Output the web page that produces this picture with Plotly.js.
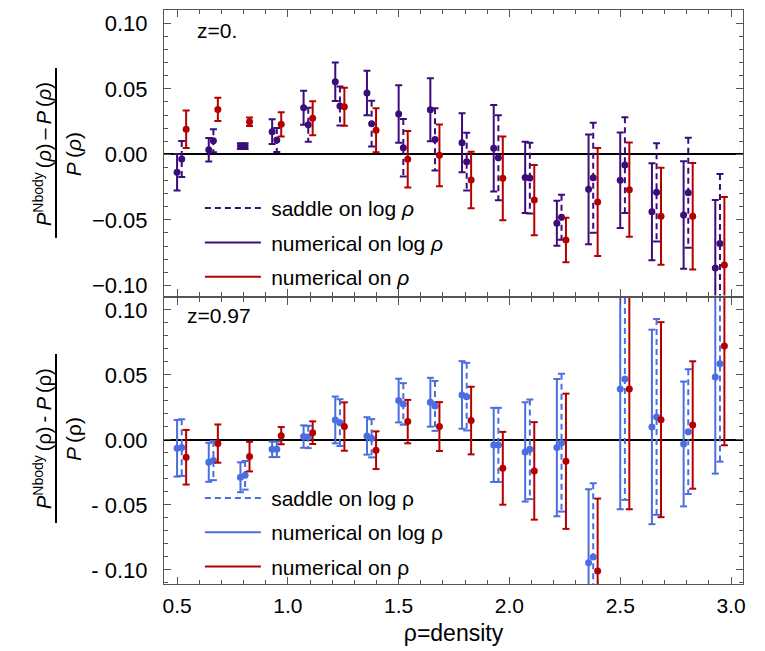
<!DOCTYPE html>
<html><head><meta charset="utf-8">
<script src="https://cdn.plot.ly/plotly-3.0.1.min.js"></script>
<style>body{margin:0;padding:0;background:#fff}</style>
</head><body>
<div id="chart" style="width:765px;height:651px"></div>
<script>
// ---- data ----
const rho = [0.5, 0.643, 0.786, 0.929, 1.071, 1.214, 1.357, 1.5, 1.643, 1.786, 1.929, 2.071, 2.214, 2.357, 2.5, 2.643, 2.786, 2.929];

// z = 0
const saddleZ0    = [-0.0036, 0.0104, 0.0063, 0.0109, 0.0226, 0.0369, 0.0234, 0.005, 0.0114, -0.0056, -0.0026, -0.0181, -0.0481, -0.0178, -0.0082, -0.029, -0.0293, -0.068];
const saddleZ0Err = [0.0137, 0.0088, 0.0022, 0.0092, 0.013, 0.0148, 0.0175, 0.022, 0.0238, 0.022, 0.0325, 0.027, 0.0172, 0.042, 0.0366, 0.0375, 0.042, 0.053];
const numLogZ0    = [-0.0137, 0.0035, 0.0063, 0.0173, 0.0356, 0.0554, 0.0468, 0.0308, 0.034, 0.0089, 0.0046, -0.0176, -0.0527, -0.0267, -0.0198, -0.0438, -0.0463, -0.0868];
const numLogZ0Err = [0.014, 0.009, 0.0022, 0.0094, 0.013, 0.0147, 0.017, 0.0219, 0.024, 0.0225, 0.033, 0.0272, 0.0172, 0.0419, 0.0364, 0.037, 0.041, 0.052];
const numRhoZ0    = [0.0191, 0.0343, 0.0249, 0.0229, 0.0275, 0.0363, 0.0183, -0.0038, -0.0008, -0.0196, -0.0183, -0.0349, -0.0654, -0.0364, -0.027, -0.0473, -0.0473, -0.0845];
const numRhoZ0Err = [0.0143, 0.0089, 0.0033, 0.0092, 0.013, 0.0145, 0.0168, 0.0216, 0.0235, 0.0216, 0.032, 0.0268, 0.017, 0.0413, 0.036, 0.037, 0.0406, 0.052];

// z = 0.97
const saddleZ1    = [-0.0059, -0.0159, -0.0272, -0.0072, 0.0023, 0.0133, 0.0013, 0.0277, 0.0262, 0.0333, -0.0038, -0.0072, -0.0021, -0.09, 0.0469, 0.0177, 0.0064, 0.0587];
const saddleZ1Err = [0.0218, 0.015, 0.011, 0.006, 0.0086, 0.018, 0.0147, 0.016, 0.0192, 0.026, 0.0285, 0.0383, 0.053, 0.0567, 0.093, 0.0753, 0.048, 0.0754];
const numLogZ1    = [-0.0064, -0.0172, -0.0287, -0.0072, 0.0026, 0.0154, 0.0031, 0.0303, 0.029, 0.0346, -0.0038, -0.0092, -0.0059, -0.0944, 0.0392, 0.01, -0.0031, 0.0485];
const numLogZ1Err = [0.0218, 0.015, 0.0115, 0.006, 0.0086, 0.018, 0.0144, 0.0168, 0.0188, 0.026, 0.0285, 0.0382, 0.0528, 0.0565, 0.0925, 0.0748, 0.048, 0.0744];
const numRhoZ1    = [-0.0133, -0.0028, -0.0128, 0.0033, 0.0056, 0.0103, -0.0079, 0.0141, 0.0103, 0.0149, -0.0218, -0.0238, -0.0164, -0.1008, 0.0392, 0.0156, 0.0115, 0.0723];
const numRhoZ1Err = [0.021, 0.0147, 0.0114, 0.0066, 0.0087, 0.0186, 0.0145, 0.0167, 0.0188, 0.026, 0.028, 0.0375, 0.052, 0.0557, 0.0925, 0.075, 0.049, 0.0764];

const xTickVals = [0.5, 1.0, 1.5, 2.0, 2.5, 3.0];
const xTickText = ['0.5', '1.0', '1.5', '2.0', '2.5', '3.0'];
const yTickVals = [-0.1, -0.05, 0, 0.05, 0.1];
const yTickTextTop = ['\u22120.10', '\u22120.05', '0.00', '0.05', '0.10'];
const yTickTextBottom = ['- 0.10', '- 0.05', '0.00', '0.05', '0.10'];

// ---- style ----
const PURPLE = '#3d0c7c', BLUE = '#4a6ee0', RED = '#b50000';
const FONT = 'Liberation Sans, Arial, sans-serif';
const xRange = [0.441, 3.054];
const plotW = 765 - 164 - 22;
const capHalf = 3.5 * (xRange[1] - xRange[0]) / plotW;
const dodge = [0, 0.021, 0.041];

function series(ys, errs, off, color, dashed, xa, ya, name, legend, rank) {
  const xs = rho.map(r => r + off);
  const vx = [], vy = [], cx = [], cy = [];
  xs.forEach((x, i) => {
    const lo = ys[i] - errs[i], hi = ys[i] + errs[i];
    vx.push(x, x, null); vy.push(hi, lo, null);
    cx.push(x - capHalf, x + capHalf, null, x - capHalf, x + capHalf, null);
    cy.push(hi, hi, null, lo, lo, null);
  });
  const grp = legend + rank;
  return [
    {x: vx, y: vy, xaxis: xa, yaxis: ya, mode: 'lines', name: '\u2005' + name, legend: legend,
     legendgroup: grp, legendrank: rank, hoverinfo: 'skip',
     line: {color: color, width: 2, dash: dashed ? '6px,4px' : 'solid'}},
    {x: cx, y: cy, xaxis: xa, yaxis: ya, mode: 'lines', showlegend: false, legendgroup: grp,
     hoverinfo: 'skip', line: {color: color, width: 2}},
    {x: xs, y: ys, xaxis: xa, yaxis: ya, mode: 'markers', showlegend: false, legendgroup: grp,
     marker: {color: color, size: 7}}
  ];
}

const traces = [].concat(
  series(numLogZ0, numLogZ0Err, dodge[0], PURPLE, false, 'x2', 'y2', 'numerical on log <i>\u03c1</i>', 'legend', 2),
  series(saddleZ0, saddleZ0Err, dodge[1], PURPLE, true, 'x2', 'y2', 'saddle on log <i>\u03c1</i>', 'legend', 1),
  series(numRhoZ0, numRhoZ0Err, dodge[2], RED, false, 'x2', 'y2', 'numerical on <i>\u03c1</i>', 'legend', 3),
  series(numLogZ1, numLogZ1Err, dodge[0], BLUE, false, 'x', 'y', 'numerical on log \u03c1', 'legend2', 2),
  series(saddleZ1, saddleZ1Err, dodge[1], BLUE, true, 'x', 'y', 'saddle on log \u03c1', 'legend2', 1),
  series(numRhoZ1, numRhoZ1Err, dodge[2], RED, false, 'x', 'y', 'numerical on \u03c1', 'legend2', 3)
);

const axCommon = {
  showgrid: false, showline: true, linecolor: '#555', linewidth: 1, mirror: 'ticks',
  ticks: 'inside', ticklen: 7, tickwidth: 1, tickcolor: '#555',
  tickfont: {family: FONT, size: 21, color: '#000'}
};
const legCommon = {
  font: {family: FONT, size: 21, color: '#000'}, bgcolor: 'rgba(0,0,0,0)',
  traceorder: 'grouped', tracegroupgap: 4, itemwidth: 56, xanchor: 'left', yanchor: 'top'
};
const annFont = {family: FONT, size: 21, color: '#000'};
const numFont = {family: FONT, size: 20, color: '#000'};
const denFont = {family: FONT, size: 21, color: '#000'};

const layout = {
  width: 765, height: 651,
  margin: {l: 164, r: 22, t: 10, b: 67},
  paper_bgcolor: '#fff', plot_bgcolor: '#fff',
  font: {family: FONT, color: '#000'},
  xaxis: Object.assign({}, axCommon, {
    range: xRange, anchor: 'y', tickvals: xTickVals, ticktext: xTickText,
    minor: {dtick: 0.1, tick0: 0.5, ticks: 'inside', ticklen: 4, tickcolor: '#555'},
    ticklabelstandoff: 3,
    title: {text: '\u03c1=density', font: {family: FONT, size: 23}, standoff: 8}
  }),
  xaxis2: Object.assign({}, axCommon, {
    range: xRange, anchor: 'y2', matches: 'x', showticklabels: false, tickvals: xTickVals,
    minor: {dtick: 0.1, tick0: 0.5, ticks: 'inside', ticklen: 4, tickcolor: '#555'}
  }),
  yaxis: Object.assign({}, axCommon, {
    domain: [0, 0.4983], range: [-0.1108, 0.1092], anchor: 'x',
    tickvals: yTickVals, ticktext: yTickTextBottom, tickfont: {family: FONT, size: 22, color: '#000'},
    minor: {dtick: 0.01, tick0: 0, ticks: 'inside', ticklen: 4, tickcolor: '#555'},
    zeroline: true, zerolinecolor: '#000', zerolinewidth: 2, ticklabelstandoff: 11
  }),
  yaxis2: Object.assign({}, axCommon, {
    domain: [0.5026, 1], range: [-0.1078, 0.1102], anchor: 'x2',
    tickvals: yTickVals, ticktext: yTickTextTop, tickfont: {family: FONT, size: 22, color: '#000'},
    minor: {dtick: 0.01, tick0: 0, ticks: 'inside', ticklen: 4, tickcolor: '#555'},
    zeroline: true, zerolinecolor: '#000', zerolinewidth: 2, ticklabelstandoff: 11
  }),
  legend: Object.assign({}, legCommon, {x: 0.062, y: 0.69}),
  legend2: Object.assign({}, legCommon, {x: 0.062, y: 0.185}),
  annotations: [
    {text: 'z=0.', xref: 'paper', yref: 'paper', x: 0.0535, y: 0.965, xanchor: 'left', yanchor: 'middle',
     showarrow: false, font: annFont},
    {text: 'z=0.97', xref: 'paper', yref: 'paper', x: 0.036, y: 0.467, xanchor: 'left', yanchor: 'middle',
     showarrow: false, font: annFont},
    {text: '<i>P</i><sup>Nbody</sup>\u2009(<i>\u03c1</i>)\u2009\u2013\u2009<i>P</i>\u2009(<i>\u03c1</i>)', xref: 'paper', yref: 'paper',
     x: -0.2107, y: 0.749, xanchor: 'center', yanchor: 'middle', textangle: -90, showarrow: false, font: numFont},
    {text: '<i>P</i>\u2009(<i>\u03c1</i>)', xref: 'paper', yref: 'paper',
     x: -0.157, y: 0.749, xanchor: 'center', yanchor: 'middle', textangle: -90, showarrow: false, font: denFont},
    {text: '<i>P</i><sup>Nbody</sup>\u2009(\u03c1)\u2009- <i>P</i>\u2009(\u03c1)', xref: 'paper', yref: 'paper',
     x: -0.2107, y: 0.2526, xanchor: 'center', yanchor: 'middle', textangle: -90, showarrow: false, font: numFont},
    {text: '<i>P</i>\u2009(\u03c1)', xref: 'paper', yref: 'paper',
     x: -0.157, y: 0.2526, xanchor: 'center', yanchor: 'middle', textangle: -90, showarrow: false, font: denFont}
  ],
  shapes: [
    {type: 'line', xref: 'paper', yref: 'paper', x0: -0.1865, x1: -0.1865, y0: 0.603, y1: 0.899,
     line: {color: '#000', width: 2}},
    {type: 'line', xref: 'paper', yref: 'paper', x0: -0.1865, x1: -0.1865, y0: 0.1063, y1: 0.4007,
     line: {color: '#000', width: 2}}
  ]
};

Plotly.newPlot('chart', traces, layout, {displayModeBar: false, staticPlot: true});
</script>
</body></html>
